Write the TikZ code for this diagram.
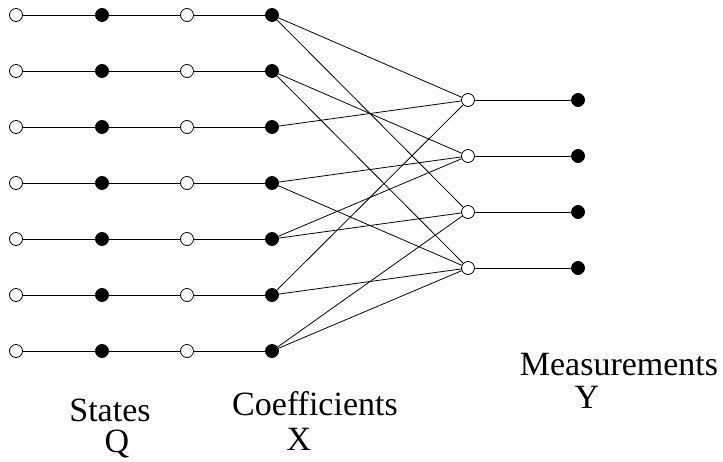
\documentclass[tikz,border=0pt]{standalone}
\usepackage{fontspec}
\setmainfont{Liberation Serif}
\begin{document}
\begin{tikzpicture}[x=1pt,y=-1pt,
  opendot/.style={circle,draw,fill=white,line width=0.8pt,minimum size=13pt,inner sep=0pt},
  fulldot/.style={circle,draw,fill=black,line width=0.8pt,minimum size=13pt,inner sep=0pt},
  wire/.style={line width=0.8pt},
  lbl/.style={font=\fontsize{34}{36}\selectfont,inner sep=0pt,anchor=base}]
\useasboundingbox (0,0) rectangle (723,461);
\foreach \i in {1,...,7}{
  \pgfmathsetmacro{\yy}{15+56*(\i-1)}
  \node[opendot] (q\i) at (16,\yy) {};
  \node[fulldot] (s\i) at (102,\yy) {};
  \node[opendot] (c\i) at (187,\yy) {};
  \node[fulldot] (x\i) at (272,\yy) {};
  \draw[wire] (q\i) -- (s\i) -- (c\i) -- (x\i);
}
\foreach \j in {1,...,4}{
  \pgfmathsetmacro{\yy}{100+56*(\j-1)}
  \node[opendot] (m\j) at (468,\yy) {};
  \node[fulldot] (y\j) at (578,\yy) {};
  \draw[wire] (m\j) -- (y\j);
}
\foreach \a/\b in {1/1,1/3,2/2,2/4,3/1,4/2,4/4,5/2,5/3,6/1,6/4,7/3,7/4}{
  \draw[wire] (x\a) -- (m\b);
}
\node[lbl] (ts) at (110,421) {States};
\node[lbl] (tq) at (117,452) {Q};
\node[lbl] (tc) at (315,415) {Coefficients};
\node[lbl] (tx) at (299,450) {X};
\node[lbl] (tm) at (619,375) {Measurements};
\node[lbl] (ty) at (587,408) {Y};
\end{tikzpicture}
\end{document}
